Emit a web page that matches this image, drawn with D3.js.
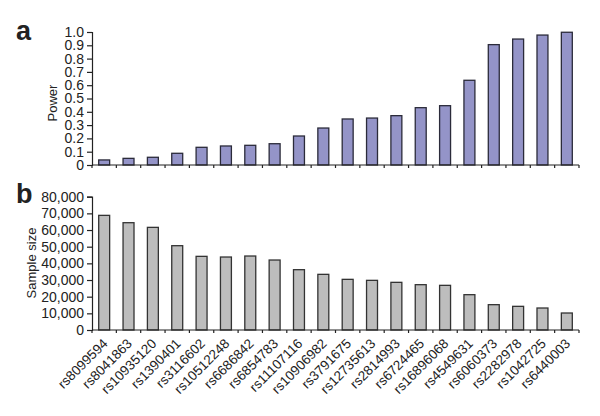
<!DOCTYPE html>
<html>
<head>
<meta charset="utf-8">
<script src="https://cdn.jsdelivr.net/npm/d3@7"></script>
<style>
  body { margin: 0; background: #fff; }
  svg text { font-family: "Liberation Sans", Arial, sans-serif; fill: #222; }
</style>
</head>
<body>
<div id="chart"></div>
<script>
// SNP ids along the shared x axis
var snps = ["rs8099594", "rs8041863", "rs10935120", "rs1390401", "rs3116602",
  "rs10512248", "rs6686842", "rs6854783", "rs11107116", "rs10906982",
  "rs3791675", "rs12735613", "rs2814993", "rs6724465", "rs16896068",
  "rs4549631", "rs6060373", "rs2282978", "rs1042725", "rs6440003"];

// panel a: power
var power = [0.038, 0.05, 0.058, 0.088, 0.133, 0.143, 0.148, 0.16, 0.218, 0.278,
  0.346, 0.353, 0.371, 0.431, 0.446, 0.637, 0.905, 0.947, 0.977, 0.998];

// panel b: sample size
var sampleSize = [68800, 64400, 61600, 50600, 44200, 43800, 44400, 42000, 36200, 33400,
  30400, 29800, 28600, 27200, 26800, 21200, 15200, 14200, 13200, 10200];

var powerTicks = [0, 0.1, 0.2, 0.3, 0.4, 0.5, 0.6, 0.7, 0.8, 0.9, 1.0];
var sizeTicks = [0, 10000, 20000, 30000, 40000, 50000, 60000, 70000, 80000];

var svgWidth = 600;
var svgHeight = 416;

var svg = d3.select("#chart")
  .append("svg")
  .attr("width", svgWidth)
  .attr("height", svgHeight);

var left = 92, right = 579;

var x = d3.scaleBand()
  .domain(snps)
  .range([left, right])
  .paddingInner(0.55)
  .paddingOuter(0.275);

// y scales for the two panels
var yA = d3.scaleLinear().domain([0, 1]).range([165, 32]);
var yB = d3.scaleLinear().domain([0, 80000]).range([330, 196.7]);

// band edges for x tick marks
var step = (right - left) / snps.length;
var edges = d3.range(snps.length + 1).map(function(i) { return left + i * step; });

function drawXAxis(y0, withLabels) {
  var g = svg.append("g");
  g.append("line")
    .attr("x1", left).attr("x2", right)
    .attr("y1", y0).attr("y2", y0)
    .attr("stroke", "#222").attr("stroke-width", 1.2);
  g.selectAll("line.tk")
    .data(edges)
    .enter()
    .append("line")
    .attr("class", "tk")
    .attr("x1", d => d).attr("x2", d => d)
    .attr("y1", y0).attr("y2", y0 + 3)
    .attr("stroke", "#222").attr("stroke-width", 1.2);
  if (withLabels) {
    g.selectAll("text")
      .data(snps)
      .enter()
      .append("text")
      .attr("transform", d => `translate(${x(d) + x.bandwidth() / 2 + 1}, ${y0 + 11}) rotate(-45)`)
      .attr("text-anchor", "end")
      .attr("dy", "0.35em")
      .style("font-size", "13.5px")
      .text(d => d);
  }
}

function drawYAxis(scale, ticks, fmt) {
  var axis = d3.axisLeft(scale)
    .tickValues(ticks)
    .tickSize(5)
    .tickPadding(3)
    .tickFormat(fmt);
  var g = svg.append("g")
    .attr("transform", `translate(${left}, 0)`)
    .call(axis);
  g.select(".domain").attr("stroke", "#222").attr("stroke-width", 1.2);
  g.selectAll(".tick line").attr("stroke", "#222").attr("stroke-width", 1.2);
  g.selectAll(".tick text")
    .style("font-size", "14px")
    .attr("fill", "#222");
}

// ---- panel a ----
svg.append("g").selectAll("rect")
  .data(power)
  .enter()
  .append("rect")
  .attr("x", (d, i) => x(snps[i]))
  .attr("y", d => yA(d))
  .attr("width", x.bandwidth())
  .attr("height", d => yA(0) - yA(d))
  .attr("fill", "#9494c8")
  .attr("stroke", "#2b2b3a")
  .attr("stroke-width", 1.3);

drawYAxis(yA, powerTicks, d => d === 0 ? "0" : d3.format(".1f")(d));
drawXAxis(165, false);

svg.append("text")
  .attr("transform", "translate(57, 103) rotate(-90)")
  .attr("text-anchor", "middle")
  .style("font-size", "13px")
  .text("Power");

svg.append("text")
  .attr("x", 16).attr("y", 40)
  .style("font-size", "27px")
  .style("font-weight", "bold")
  .text("a");

// ---- panel b ----
svg.append("g").selectAll("rect")
  .data(sampleSize)
  .enter()
  .append("rect")
  .attr("x", (d, i) => x(snps[i]))
  .attr("y", d => yB(d))
  .attr("width", x.bandwidth())
  .attr("height", d => yB(0) - yB(d))
  .attr("fill", "#bdbdbd")
  .attr("stroke", "#333")
  .attr("stroke-width", 1.3);

drawYAxis(yB, sizeTicks, d => d === 0 ? "0" : d3.format(",")(d));
drawXAxis(330, true);

svg.append("text")
  .attr("transform", "translate(36, 263) rotate(-90)")
  .attr("text-anchor", "middle")
  .style("font-size", "13px")
  .text("Sample size");

svg.append("text")
  .attr("x", 16).attr("y", 203)
  .style("font-size", "27px")
  .style("font-weight", "bold")
  .text("b");
</script>
</body>
</html>
